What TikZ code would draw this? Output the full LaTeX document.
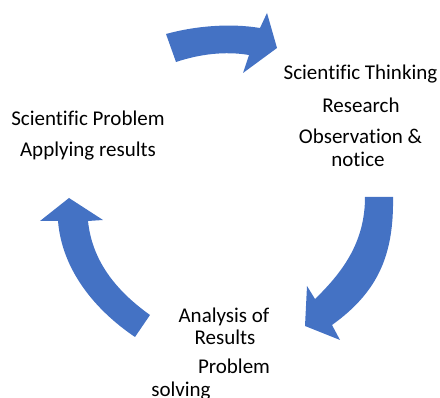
\documentclass[tikz,border=0pt]{standalone}
\usepackage{fontspec}
\setmainfont{Carlito}[Ligatures=NoCommon]
\definecolor{officeblue}{HTML}{4472C4}
\begin{document}
\begin{tikzpicture}[x=1pt,y=-1pt,
  cyclearrow/.style={fill=officeblue,draw=none},
  lbl/.style={anchor=base,inner sep=0pt,font=\fontsize{21}{25}\selectfont,text=black}]
\useasboundingbox (0,0) rectangle (440,398);
% top arrow
\path[cyclearrow] (166,34) .. controls (195,26) and (230,23) .. (260,28)
  -- (267,13) -- (277,48) -- (243,73) -- (249,55)
  .. controls (225,51) and (200,54) .. (176,62) -- cycle;
% right arrow
\path[cyclearrow] (365,197) -- (393,197) .. controls (394,255) and (378,292) .. (332,325)
  -- (340,340) -- (305,326) -- (307,286) -- (315,299)
  .. controls (345,270) and (365,240) .. (365,197) -- cycle;
% left arrow
\path[cyclearrow] (150,315) -- (135,337) .. controls (95,310) and (62,270) .. (58,221)
  -- (40,221) -- (69,198) -- (103,220) -- (88,221)
  .. controls (92,260) and (115,290) .. (150,315) -- cycle;
% texts
\node[lbl] (st) at (360.5,80) {Scientific Thinking};
\node[lbl] (rs) at (361,113) {Research};
\node[lbl] (ob) at (360.5,144) {Observation \&};
\node[lbl] (nt) at (358,167) {notice};
\node[lbl] (sp) at (88,126) {Scientific Problem};
\node[lbl] (ar) at (88,157) {Applying results};
\node[lbl] (an) at (224,323) {Analysis of};
\node[lbl] (re) at (225,345) {Results};
\node[lbl] (pb) at (234,374) {Problem};
\node[lbl] (sv) at (181,397) {solving};
\end{tikzpicture}
\end{document}
